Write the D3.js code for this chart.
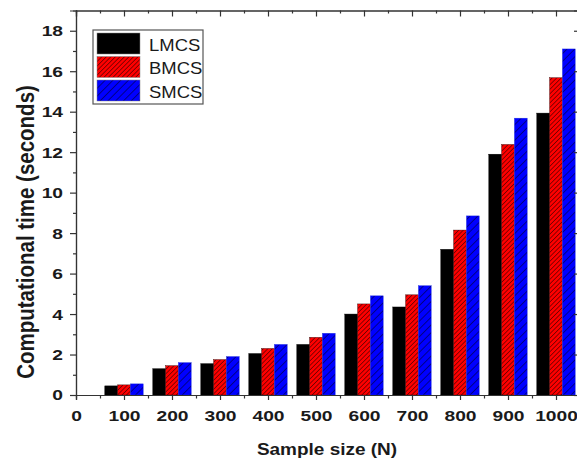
<!DOCTYPE html>
<html>
<head>
<meta charset="utf-8">
<script src="https://cdn.jsdelivr.net/npm/d3@7"></script>
<style>
  body { margin: 0; background: #fff; }
  text { font-family: Arial, "Liberation Sans", sans-serif; fill: #1a1a1a; }
</style>
</head>
<body>
<div id="wrapper"></div>
<script>
// data
const sampleSizes = [100, 200, 300, 400, 500, 600, 700, 800, 900, 1000]
const seriesNames = ["LMCS", "BMCS", "SMCS"]
const lmcs = [0.45, 1.3, 1.55, 2.05, 2.5, 4.0, 4.35, 7.2, 11.9, 13.93]
const bmcs = [0.5, 1.45, 1.75, 2.3, 2.85, 4.5, 4.95, 8.15, 12.38, 15.68]
const smcs = [0.55, 1.6, 1.9, 2.5, 3.05, 4.9, 5.4, 8.85, 13.68, 17.1]
const yTicks = [0, 2, 4, 6, 8, 10, 12, 14, 16, 18]
const xTicks = [0, 100, 200, 300, 400, 500, 600, 700, 800, 900, 1000]

const seriesValues = [lmcs, bmcs, smcs]

const dimensions = {
  width: 577,
  height: 459,
  margin: { top: 10.5, right: -3, bottom: 64, left: 76 },
}
dimensions.boundedWidth = dimensions.width - dimensions.margin.left - dimensions.margin.right
dimensions.boundedHeight = dimensions.height - dimensions.margin.top - dimensions.margin.bottom

// the original picture is a bit stretched sideways, so text gets a horizontal scale
const stretch = 1.24

const wrapper = d3.select("#wrapper")
  .append("svg")
    .attr("width", dimensions.width)
    .attr("height", dimensions.height)

const defs = wrapper.append("defs")

// hatch patterns
function hatch(id, color, spacing) {
  const p = defs.append("pattern")
      .attr("id", id)
      .attr("patternUnits", "userSpaceOnUse")
      .attr("width", spacing)
      .attr("height", spacing)
      .attr("patternTransform", "rotate(45)")
  p.append("rect")
      .attr("width", spacing)
      .attr("height", spacing)
      .attr("fill", color)
  p.append("line")
      .attr("x1", 0).attr("x2", 0)
      .attr("y1", 0).attr("y2", spacing)
      .attr("stroke", "#000")
      .attr("stroke-width", 0.9)
}
hatch("hatch-red", "#ff0000", 3.2)
hatch("hatch-blue", "#0000ff", 5.5)
const fills = ["#000", "url(#hatch-red)", "url(#hatch-blue)"]

const bounds = wrapper.append("g")
    .attr("transform", `translate(${dimensions.margin.left}, ${dimensions.margin.top})`)

// scales
const xScale = d3.scaleLinear()
  .domain([0, 1050])
  .range([0, dimensions.boundedWidth])

const yScale = d3.scaleLinear()
  .domain([0, 19])
  .range([dimensions.boundedHeight, 0])

// bars
const groupWidth = 80
const barWidth = groupWidth / 3

seriesValues.forEach((values, s) => {
  bounds.append("g")
    .selectAll("rect")
    .data(values)
    .enter().append("rect")
      .attr("x", (d, i) => xScale(sampleSizes[i] - groupWidth / 2 + s * barWidth))
      .attr("width", xScale(barWidth) - xScale(0))
      .attr("y", d => yScale(d))
      .attr("height", d => yScale(0) - yScale(d))
      .attr("fill", fills[s])
      .attr("stroke", s == 0 ? "#000" : (s == 1 ? "#300" : "#2233dd"))
      .attr("stroke-width", 0.4)
})

// axes
const axisColor = "#333"
const minorX = d3.range(50, 1050, 100)
const minorY = d3.range(1, 19, 2)

const xAxis = bounds.append("g")
    .attr("transform", `translate(0, ${dimensions.boundedHeight})`)
    .call(d3.axisBottom(xScale).tickValues(xTicks).tickSize(5).tickPadding(10).tickFormat(d3.format("d")))
xAxis.append("g").call(d3.axisBottom(xScale).tickValues(minorX).tickSize(3.5).tickFormat(""))

const xTop = bounds.append("g")
    .call(d3.axisBottom(xScale).tickValues(xTicks).tickSize(6).tickFormat(""))
xTop.append("g").call(d3.axisBottom(xScale).tickValues(minorX).tickSize(3).tickFormat(""))

const yAxis = bounds.append("g")
    .call(d3.axisLeft(yScale).tickValues(yTicks).tickSize(6).tickPadding(4.5))
yAxis.append("g").call(d3.axisLeft(yScale).tickValues(minorY).tickSize(3).tickFormat(""))

const yRight = bounds.append("g")
    .attr("transform", `translate(${dimensions.boundedWidth}, 0)`)
    .call(d3.axisLeft(yScale).tickValues(yTicks).tickSize(6).tickFormat(""))
yRight.append("g").call(d3.axisLeft(yScale).tickValues(minorY).tickSize(3).tickFormat(""))

bounds.selectAll(".domain").attr("stroke", axisColor).attr("stroke-width", 1.2)
bounds.selectAll(".tick line").attr("stroke", axisColor).attr("stroke-width", 1.2)
bounds.selectAll(".tick text")
    .attr("transform", `scale(${stretch}, 1)`)
    .style("font-size", "15.5px")
    .style("font-weight", "bold")
    .attr("fill", "#1a1a1a")

// axis titles
wrapper.append("text")
    .attr("transform", `translate(327, 455) scale(1.15, 1)`)
    .attr("text-anchor", "middle")
    .style("font-size", "16.5px")
    .style("font-weight", "bold")
    .text("Sample size (N)")

wrapper.append("text")
    .attr("transform", `translate(34, 232) rotate(-90) scale(1, 1.15)`)
    .attr("text-anchor", "middle")
    .style("font-size", "20.5px")
    .style("font-weight", "bold")
    .text("Computational time (seconds)")

// legend
const legend = wrapper.append("g")
    .attr("transform", "translate(93, 30)")
legend.append("rect")
    .attr("width", 110)
    .attr("height", 74)
    .attr("fill", "#fff")
    .attr("stroke", "#555")
    .attr("stroke-width", 1.2)

seriesNames.forEach((name, i) => {
  const row = legend.append("g")
      .attr("transform", `translate(4, ${3 + i * 23.5})`)
  row.append("rect")
      .attr("width", 43)
      .attr("height", 21)
      .attr("fill", fills[i])
      .attr("stroke", "#888")
      .attr("stroke-width", 0.5)
  row.append("text")
      .attr("transform", "translate(52, 17.5) scale(1.12, 1)")
      .style("font-size", "16.5px")
      .text(name)
})
</script>
</body>
</html>
